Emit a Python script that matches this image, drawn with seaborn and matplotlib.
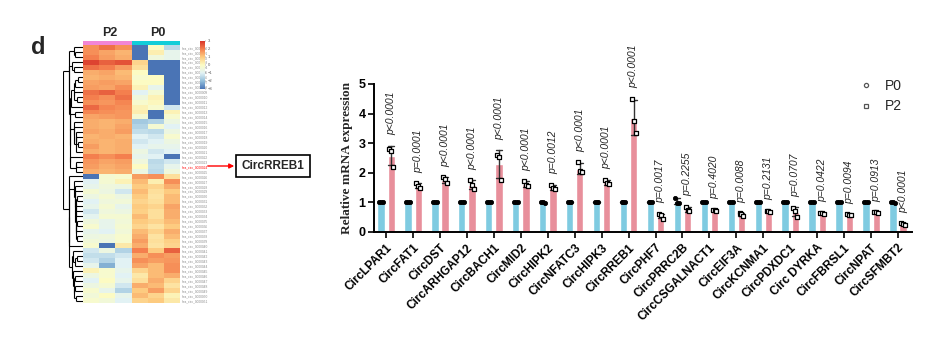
import numpy as np
import pandas as pd
import matplotlib
matplotlib.use("Agg")
import matplotlib.pyplot as plt
from matplotlib.colors import ListedColormap, LinearSegmentedColormap
from matplotlib.lines import Line2D
from matplotlib.patches import FancyArrowPatch
import seaborn as sns

sns.set_style("white")
plt.rcParams['font.family'] = ['Liberation Sans', 'DejaVu Sans']

# ---------------- data: qPCR bar chart ----------------
genes = ["CircLPAR1", "CircFAT1", "CircDST", "CircARHGAP12", "CircBACH1", "CircMID2",
         "CircHIPK2", "CircNFATC3", "CircHIPK3", "CircRREB1", "CircPHF7", "CircPRRC2B",
         "CircCSGALNACT1", "CircEIF3A", "CircKCNMA1", "CircPDXDC1", "Circ DYRKA",
         "CircFBRSL1", "CircNPAT", "CircSFMBT2"]
p_values = ["p<0.0001", "p=0.0001", "p<0.0001", "p<0.0001", "p<0.0001", "p<0.0001",
            "p=0.0012", "p<0.0001", "p<0.0001", "p<0.0001", "p=0.0017", "p=0.2255",
            "p=0.4020", "p=0.0088", "p=0.2131", "p=0.0707", "p=0.0422", "p=0.0094",
            "p=0.0913", "p<0.0001"]
p0_reps = [[1, 1, 1], [1, 1, 1], [1, 1, 1], [1, 1, 1], [1, 1, 1], [1, 1, 1],
           [1.03, 1.0, 0.97], [1, 1, 1], [1, 1, 1], [1, 1, 1], [1, 1, 1],
           [1.16, 0.99, 0.97], [1, 1, 1], [1, 1, 1], [1, 1, 1], [1, 1, 1],
           [1, 1, 1], [1, 1, 1], [1, 1, 1], [1.03, 1.0, 0.97]]
p2_reps = [[2.82, 2.72, 2.2], [1.65, 1.55, 1.5], [1.85, 1.78, 1.65], [1.75, 1.6, 1.45],
           [2.6, 2.52, 1.75], [1.72, 1.58, 1.55], [1.6, 1.47, 1.45], [2.35, 2.05, 2.02],
           [1.77, 1.65, 1.62], [4.5, 3.75, 3.35], [0.6, 0.56, 0.45], [0.85, 0.75, 0.7],
           [0.76, 0.74, 0.72], [0.63, 0.6, 0.55], [0.72, 0.7, 0.68], [0.82, 0.72, 0.52],
           [0.65, 0.64, 0.62], [0.61, 0.58, 0.56], [0.68, 0.66, 0.65], [0.3, 0.27, 0.24]]
groups = ["P0", "P2"]
bar_colors = ["#7FCBE1", "#E88F9B"]

# ---------------- data: heatmap (z-scores, cols P2 x3, P0 x3) ----------------
heat_cols = ["P2_1", "P2_2", "P2_3", "P0_1", "P0_2", "P0_3"]
heat_up = [
    [1.8, 2.2, 1.8, -3.0, 0.0, -1.5],
    [1.8, 1.5, 1.3, -3.0, 0.3, -0.8],
    [2.0, 1.6, 1.4, -3.0, -0.5, -0.8],
    [2.8, 2.4, 2.6, 0.8, -3.0, -3.0],
    [2.2, 2.0, 1.6, 0.6, -3.0, -3.0],
    [1.4, 1.5, 1.2, 0.0, -3.0, -3.0],
    [1.3, 1.4, 1.3, -0.2, 0.0, -3.0],
    [1.5, 1.6, 1.5, 0.0, 0.0, -3.0],
    [1.6, 1.5, 1.8, 0.2, -0.8, -3.0],
    [2.2, 2.4, 2.0, -1.0, -0.3, -3.0],
    [2.0, 1.8, 2.2, -0.5, 0.2, -3.0],
    [1.8, 1.7, 1.9, -0.2, 0.1, -3.0],
    [2.3, 1.9, 1.8, 0.2, -0.2, -1.2],
    [1.9, 1.8, 1.7, 0.3, -3.0, 0.2],
    [1.5, 1.6, 1.7, -0.3, -3.0, -0.2],
    [1.4, 1.3, 1.4, -1.8, -1.6, -0.6],
    [1.4, 1.3, 1.5, -1.6, -0.3, -1.0],
    [1.5, 1.4, 1.6, -1.4, -1.5, -0.6],
    [1.3, 1.4, 1.3, -1.0, -1.2, -0.2],
    [1.4, 1.3, 1.4, -1.2, -1.0, -0.6],
    [1.6, 1.3, 1.4, -1.0, -0.8, -0.8],
    [1.4, 1.3, 1.4, -0.6, -1.2, -1.0],
    [2.0, 1.8, 2.0, -0.8, -1.0, -3.0],
    [1.7, 1.5, 1.6, -0.5, -1.5, -1.2],
    [1.6, 1.4, 1.5, 0.0, -1.4, -0.8],
    [1.4, 1.3, 1.4, -0.6, -1.5, -0.5],
]
heat_down = [
    [-3.0, -0.3, -0.2, 1.6, 1.8, 0.6],
    [-1.0, -0.3, 0.2, 1.2, 0.3, 1.8],
    [-0.8, -0.5, -0.6, 1.0, 0.8, 1.4],
    [-0.3, -0.6, -1.2, 1.2, 0.6, 1.0],
    [-0.6, -0.3, -0.6, 1.0, 0.5, 1.2],
    [-1.0, -0.5, -0.4, 0.8, 0.6, 1.2],
    [-0.8, -0.3, -0.8, 1.0, 0.8, 1.5],
    [-1.2, -0.5, -0.6, 0.9, 0.6, 1.4],
    [-0.9, -0.3, -0.3, 1.2, 0.6, 1.4],
    [-0.5, -0.8, -0.4, 1.0, 0.8, 1.2],
    [-0.2, -0.8, -0.3, 0.8, 0.5, 1.0],
    [-0.8, -1.0, -0.4, 1.2, 0.8, 1.4],
    [-0.6, -0.5, -0.2, 1.4, 0.5, 1.2],
    [-0.4, -0.6, -0.2, 1.6, 0.6, 0.9],
    [-0.2, -3.0, 0.4, 1.4, 0.5, 0.8],
    [-1.2, -0.6, -1.6, 2.0, 1.0, 2.4],
    [-1.4, -1.4, -1.2, 1.4, 1.8, 1.6],
    [-1.2, -1.6, -1.0, 1.8, 1.6, 1.7],
    [-0.8, -2.2, -1.0, 1.5, 1.2, 1.8],
    [0.2, -0.2, -0.8, 0.8, 1.2, 1.8],
    [-0.6, -0.2, -1.0, 0.4, 1.2, 1.4],
    [-1.0, 0.0, -0.8, 0.6, 1.4, 0.8],
    [-0.6, -0.3, -1.2, 1.4, 1.2, 0.5],
    [-0.2, -0.8, -1.6, 1.0, 1.6, 0.8],
    [-0.4, 0.0, -0.8, 1.2, 0.8, 0.2],
    [-0.2, -0.4, -1.0, 0.8, 1.0, 0.4],
]
highlight_row = 24
row_labels = [f"hsa_circ_{k:07d}" for k in range(len(heat_up) + len(heat_down))]
cbar_ticks = [3, 2, 1, 0, -1, -2, -3]
heat_cmap = LinearSegmentedColormap.from_list(
    "heat", ["#4A74B5", "#93BFDB", "#E2F2F4", "#FCFCC4", "#FDCB80", "#F4804E", "#D8352A"])

W, H = 948, 337
fig = plt.figure(figsize=(W / 100, H / 100), dpi=100)

def fx(px):
    return px / W

def fy(py):
    return 1 - py / H

# ---------------- heatmap ----------------
heat = pd.DataFrame(heat_up + heat_down, columns=heat_cols, index=row_labels)
n_rows = len(heat)
hax = fig.add_axes([fx(83), fy(303), fx(180) - fx(83), fy(45) - fy(303)])
cax = fig.add_axes([fx(200), fy(89), fx(205) - fx(200), fy(41) - fy(89)])
sns.heatmap(heat, ax=hax, cmap=heat_cmap, vmin=-3, vmax=3, cbar_ax=cax,
            xticklabels=False, yticklabels=True)
hax.set_ylabel("")
hax.yaxis.set_ticks_position("right")
hax.tick_params(axis="y", length=0, pad=1, labelsize=2.3, labelcolor="#8a8a8a",
                labelright=True, labelleft=False, rotation=0)
for k, t in enumerate(hax.get_yticklabels()):
    if k == highlight_row:
        t.set_color("red")
cax.set_yticks(cbar_ticks)
cax.tick_params(labelsize=3, length=1, width=0.3, pad=1, colors="#555555")
for s in cax.spines.values():
    s.set_visible(False)

# group annotation bar
tax = fig.add_axes([fx(83), fy(45), fx(180) - fx(83), fy(41) - fy(45)])
sns.heatmap(pd.DataFrame([[0, 0, 0, 1, 1, 1]], columns=heat_cols), ax=tax,
            cmap=ListedColormap(["#F285D6", "#12CDD8"]), cbar=False,
            xticklabels=False, yticklabels=False)
fig.text(fx(110), fy(33), "P2", ha="center", va="center", fontsize=9, weight="bold")
fig.text(fx(158), fy(33), "P0", ha="center", va="center", fontsize=9, weight="bold")

# dendrogram (order-preserving average-linkage clustering of the heatmap rows)
dax = fig.add_axes([fx(63), fy(303), fx(83) - fx(63), fy(45) - fy(303)])
vals = heat.values
clusters = [dict(members=[k], y=k + 0.5, h=0.0) for k in range(n_rows)]
segs = []
while len(clusters) > 1:
    d = []
    for k in range(len(clusters) - 1):
        a = vals[clusters[k]["members"]].mean(axis=0)
        b = vals[clusters[k + 1]["members"]].mean(axis=0)
        d.append(np.linalg.norm(a - b))
    k = int(np.argmin(d))
    A, B = clusters[k], clusters[k + 1]
    h = max(d[k], A["h"], B["h"]) + 0.05
    segs.append(([A["h"], h], [A["y"], A["y"]]))
    segs.append(([B["h"], h], [B["y"], B["y"]]))
    segs.append(([h, h], [A["y"], B["y"]]))
    clusters[k:k + 2] = [dict(members=A["members"] + B["members"],
                              y=(A["y"] + B["y"]) / 2, h=h)]
hmax = clusters[0]["h"]
for xs, ys in segs:
    dax.plot(np.sqrt(np.array(xs) / hmax), ys, color="black", lw=0.8,
             solid_capstyle="butt")
dax.set_xlim(1.02, 0)
dax.set_ylim(n_rows, 0)
dax.axis("off")

fig.text(fx(38), fy(48), "d", ha="center", va="center", fontsize=17, weight="bold")

# arrow + callout
fig.add_artist(FancyArrowPatch((fx(205), fy(166)), (fx(237), fy(166)),
                               transform=fig.transFigure, arrowstyle="-|>",
                               color="red", mutation_scale=7, lw=1))
fig.text(fx(273), fy(166), "CircRREB1", ha="center", va="center", fontsize=8.5,
         weight="bold",
         bbox=dict(boxstyle="square,pad=0.45", fc="white", ec="black", lw=1.2))

# ---------------- bar chart ----------------
rows = []
for g, p0, p2 in zip(genes, p0_reps, p2_reps):
    for v in p0:
        rows.append((g, "P0", v))
    for v in p2:
        rows.append((g, "P2", v))
df = pd.DataFrame(rows, columns=["gene", "group", "value"])

bax = fig.add_axes([fx(374), fy(232), fx(912) - fx(374), fy(84) - fy(232)])
sns.barplot(data=df, x="gene", y="value", hue="group", order=genes,
            hue_order=groups, palette=bar_colors, errorbar="sd", width=0.76,
            gap=0.29, capsize=0.45, err_kws={"linewidth": 1.0, "color": "#333333"},
            ax=bax, legend=False, saturation=1)

off = 0.19
jit = [-0.07, 0.0, 0.07]
for i, (p0, p2) in enumerate(zip(p0_reps, p2_reps)):
    bax.scatter([i - off + j for j in jit], p0, marker="o", s=9, facecolor="black",
                edgecolor="black", linewidth=0.6, zorder=4)
    bax.scatter([i + off + j for j in jit], p2, marker="s", s=9, facecolor="white",
                edgecolor="black", linewidth=0.9, zorder=4)
    top = max(max(p2), np.mean(p2) + np.std(p2, ddof=1))
    bax.text(i + off, top + 0.35, p_values[i], rotation=90, ha="center", va="bottom",
             fontsize=7.5, style="italic", clip_on=False)

bax.set_xlim(-0.45, len(genes) - 0.48)
bax.set_ylim(0, 5)
bax.set_yticks([0, 1, 2, 3, 4, 5])
bax.set_xlabel("")
bax.set_ylabel("Relative mRNA expression", fontsize=9.5, weight="bold",
               family=["Liberation Serif", "DejaVu Serif"], labelpad=4)
sns.despine(ax=bax)
for s in ["left", "bottom"]:
    bax.spines[s].set_linewidth(1.4)
    bax.spines[s].set_color("black")
bax.tick_params(axis="both", direction="out", length=4, width=1.2, colors="black",
                bottom=True, left=True)
bax.tick_params(axis="y", labelsize=9, pad=2)
bax.set_yticklabels([str(t) for t in [0, 1, 2, 3, 4, 5]], weight="bold")
bax.set_xticks(range(len(genes)))
bax.set_xticklabels(genes, rotation=45, ha="right", rotation_mode="anchor",
                    fontsize=8.5, weight="bold")
bax.tick_params(axis="x", pad=3)

handles = [Line2D([], [], marker="o", ls="", markersize=3, markerfacecolor="white",
                  markeredgecolor="#555555", markeredgewidth=0.9),
           Line2D([], [], marker="s", ls="", markersize=3, markerfacecolor="white",
                  markeredgecolor="#555555", markeredgewidth=0.9)]
fig.legend(handles, groups, loc="upper left", bbox_to_anchor=(fx(845), fy(66)),
           frameon=False, fontsize=10, handletextpad=0.8, labelspacing=0.5,
           handlelength=1.2)

fig.savefig("out.png", dpi=100)
